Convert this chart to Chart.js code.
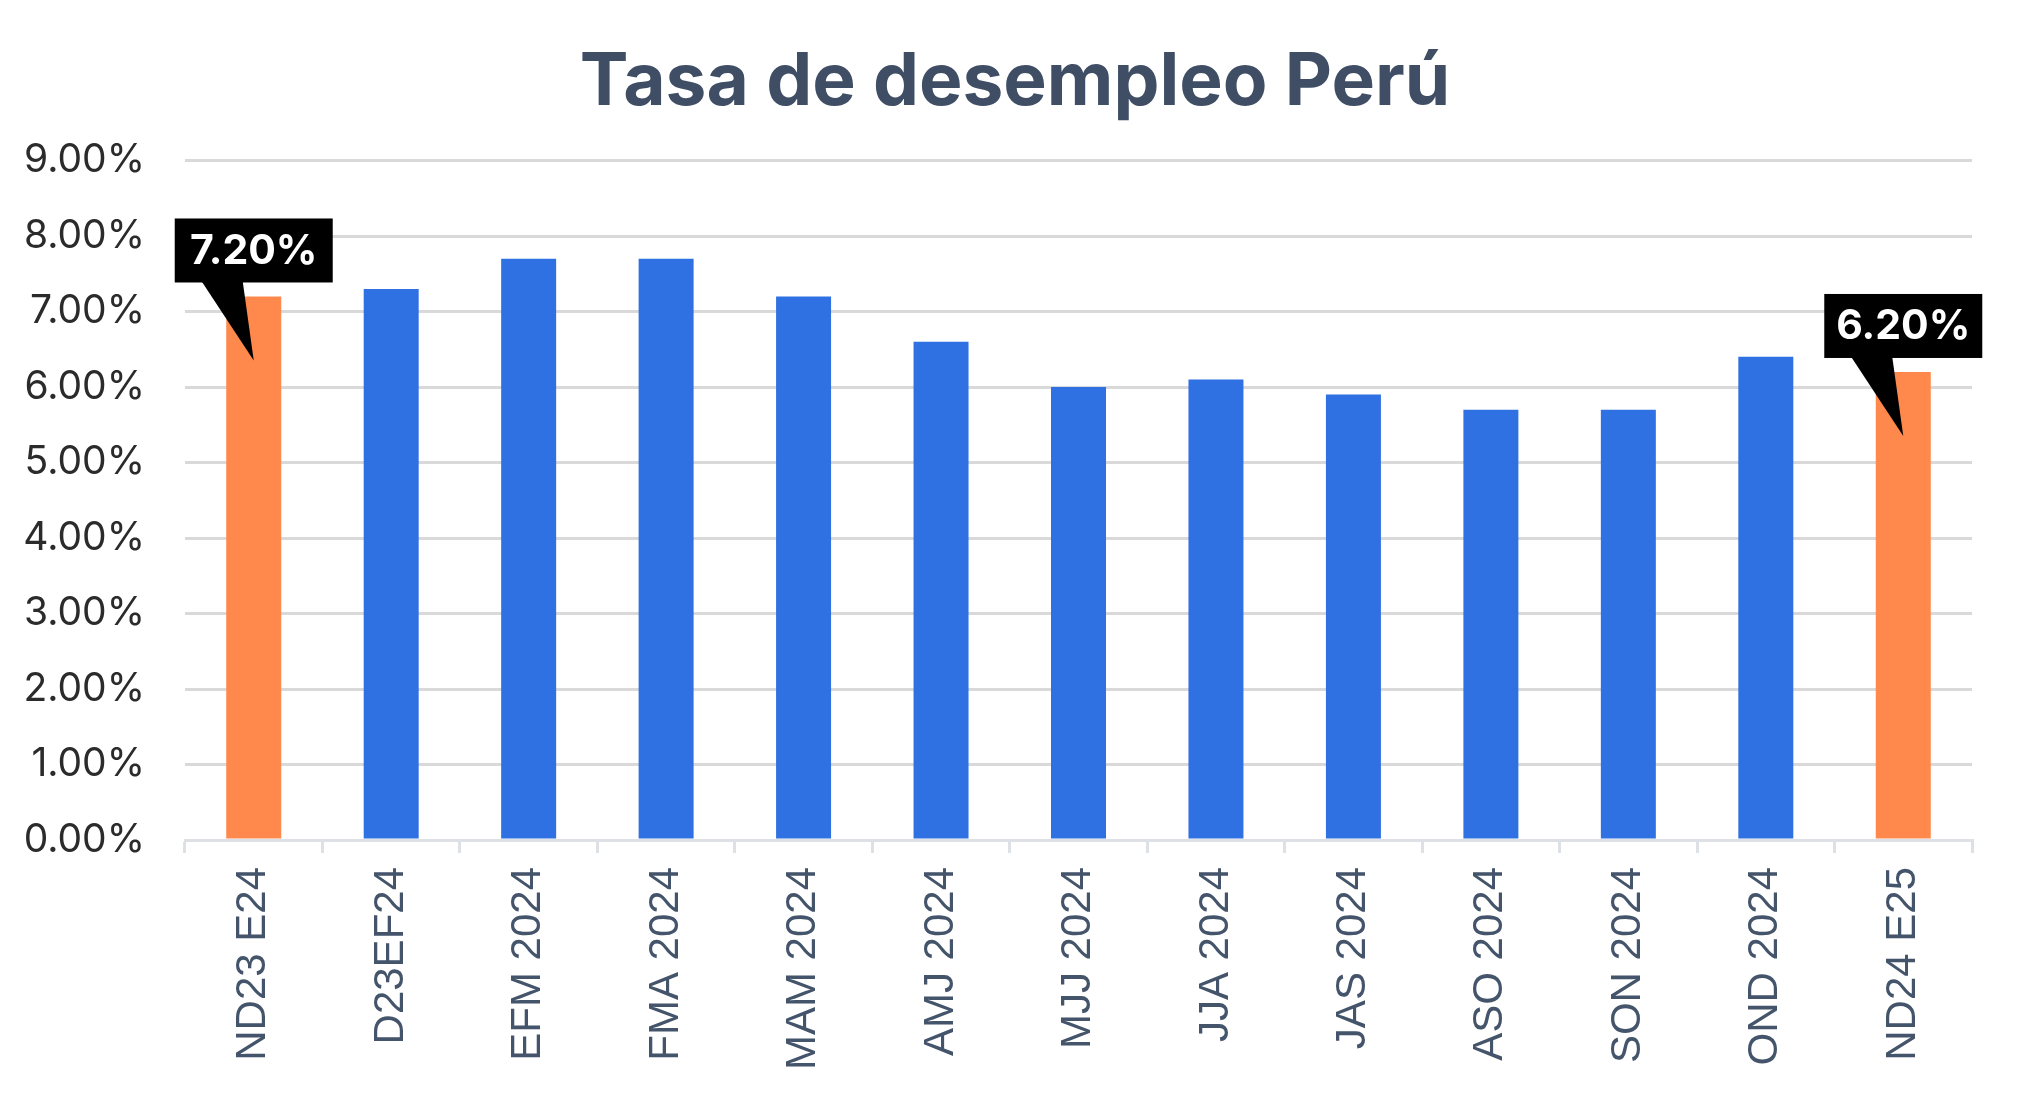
<!DOCTYPE html>
<html>
<head>
<meta charset="utf-8">
<script src="https://cdn.jsdelivr.net/npm/chart.js@4.4.1/dist/chart.umd.min.js"></script>
<style>
  html, body { margin: 0; padding: 0; background: #ffffff; }
  #wrap { width: 2030px; height: 1113px; }
</style>
</head>
<body>
<div id="wrap"><canvas id="myChart" width="2030" height="1113"></canvas></div>
<script>
// data
var categories = ["ND23 E24", "D23EF24", "EFM 2024", "FMA 2024", "MAM 2024", "AMJ 2024",
  "MJJ 2024", "JJA 2024", "JAS 2024", "ASO 2024", "SON 2024", "OND 2024", "ND24 E25"];
var desempleo = [7.2, 7.3, 7.7, 7.7, 7.2, 6.6, 6.0, 6.1, 5.9, 5.7, 5.7, 6.4, 6.2];
var highlighted = [0, 12];
var yTicks = [0, 1, 2, 3, 4, 5, 6, 7, 8, 9];

var blue = '#2f70e2';
var orange = '#ff884d';

var barColors = desempleo.map(function (v, i) {
  return highlighted.indexOf(i) >= 0 ? orange : blue;
});

// black callout boxes over the highlighted bars
var calloutPlugin = {
  id: 'callouts',
  afterLayout: function (chart) {
    // centre the title on the whole canvas, not on the padded box
    if (chart.titleBlock) {
      chart.titleBlock.left = 0;
      chart.titleBlock.right = chart.width;
      chart.titleBlock.width = chart.width;
    }
  },
  afterDatasetsDraw: function (chart) {
    var ctx = chart.ctx;
    var meta = chart.getDatasetMeta(0);
    ctx.save();
    highlighted.forEach(function (i) {
      var bar = meta.data[i];
      var w = 158, h = 64;
      var bottom = bar.y - 14;
      var left = bar.x - w / 2;
      ctx.fillStyle = '#000000';
      ctx.fillRect(left, bottom - h, w, h);
      ctx.beginPath();
      ctx.moveTo(bar.x - 52, bottom - 1);
      ctx.lineTo(bar.x - 11, bottom - 1);
      ctx.lineTo(bar.x, bar.y + 64);
      ctx.closePath();
      ctx.fill();
      ctx.fillStyle = '#ffffff';
      ctx.font = 'bold 41px Inter';
      ctx.textAlign = 'center';
      ctx.textBaseline = 'middle';
      ctx.fillText(desempleo[i].toFixed(2) + '%', bar.x, bottom - h / 2 + 1);
    });
    ctx.restore();
  }
};

function chartOnLoad() {
  const ctx = document.getElementById('myChart');

  new Chart(ctx, {
    type: 'bar',
    data: {
      labels: categories,
      datasets: [{
        label: 'Tasa de desempleo',
        data: desempleo,
        backgroundColor: barColors,
        barPercentage: 0.4,
        categoryPercentage: 1.0
      }]
    },
    options: {
      responsive: false,
      animation: false,
      layout: { padding: { left: 0, right: 58, top: 0, bottom: 0 } },
      plugins: {
        legend: { display: false },
        tooltip: { enabled: false },
        title: {
          display: true,
          text: 'Tasa de desempleo Perú',
          color: '#3f4e65',
          font: { family: 'Inter', size: 73, weight: 'bold' },
          padding: { top: 39, bottom: 34 }
        }
      },
      scales: {
        x: {
          grid: {
            offset: true,
            drawOnChartArea: false,
            drawTicks: true,
            tickLength: 13,
            color: '#dde1e6',
            lineWidth: 3
          },
          border: { color: '#dde1e6', width: 3 },
          ticks: {
            color: '#44546a',
            font: { family: 'Liberation Sans', size: 42 },
            maxRotation: 90,
            minRotation: 90,
            padding: 14
          },
          afterFit: function (scale) { scale.height = 273; }
        },
        y: {
          min: 0,
          max: 9,
          afterBuildTicks: function (scale) {
            scale.ticks = yTicks.map(function (v) { return { value: v }; });
          },
          grid: { color: '#d9d9d9', lineWidth: 3, drawTicks: false },
          border: { display: false },
          ticks: {
            color: '#2b2b2b',
            font: { family: 'Inter', size: 39 },
            padding: 40,
            callback: function (value) { return value.toFixed(2) + '%'; }
          },
          afterFit: function (scale) { scale.width = 185; }
        }
      }
    },
    plugins: [calloutPlugin]
  });
}

window.onload = chartOnLoad();
</script>
</body>
</html>
